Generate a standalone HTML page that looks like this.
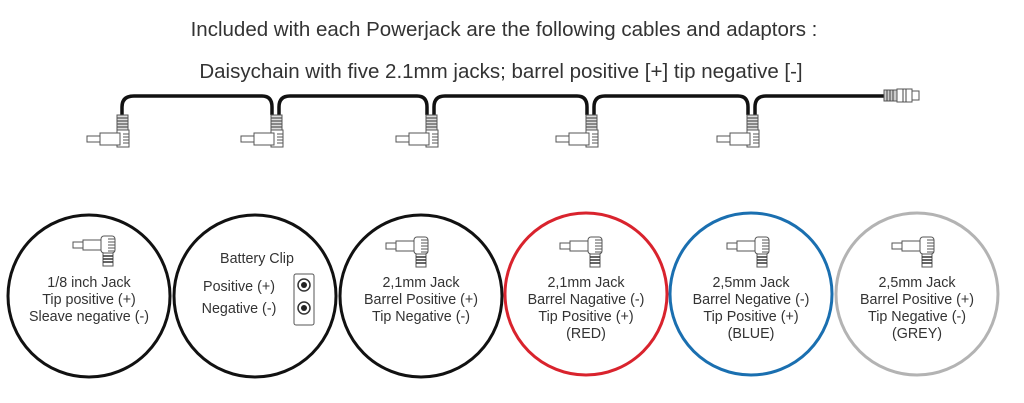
<!DOCTYPE html><html><head><style>body{margin:0;background:#fff}svg{display:block}text{font-family:"Liberation Sans",sans-serif;fill:#333}</style></head><body>
<svg width="1024" height="403" viewBox="0 0 1024 403">
<defs>
<g id="dj">
<rect x="-7" y="0" width="11" height="15" fill="#ddd" stroke="#555" stroke-width="1"/>
<path d="M-7 3H4M-7 6H4M-7 9H4M-7 12H4" stroke="#555" stroke-width="1.2"/>
<rect x="-7" y="15" width="12" height="17" fill="#fff" stroke="#555"/>
<path d="M-1 19H5M-1 22H5M-1 25H5M-1 28H5" stroke="#555"/>
<rect x="-24" y="18" width="20" height="12" fill="#fff" stroke="#555"/>
<rect x="-37" y="21" width="13" height="6" fill="#fff" stroke="#555"/>
</g>
<g id="cj">
<rect x="-7" y="0" width="14" height="17" rx="3" fill="#fff" stroke="#555"/>
<path d="M0 3H7M0 6H7M0 9H7M0 12H7M0 15H7" stroke="#555"/>
<rect x="-5" y="17" width="10" height="13" fill="#fff" stroke="#555"/>
<path d="M-5 20H5M-5 23H5M-5 26H5" stroke="#333" stroke-width="1.5"/>
<rect x="-25" y="4" width="18" height="10" fill="#fff" stroke="#555"/>
<rect x="-35" y="6" width="10" height="6" fill="#fff" stroke="#555"/>
</g>
</defs>
<text x="504" y="36" font-size="20.5" text-anchor="middle">Included with each Powerjack are the following cables and adaptors :</text>
<text x="501" y="78" font-size="20.5" text-anchor="middle">Daisychain with five 2.1mm jacks; barrel positive [+] tip negative [-]</text>
<g fill="none" stroke="#111" stroke-width="3.5">
<path d="M122 115V107Q122 96 134 96H262Q272 96 272 107V115"/>
<path d="M279 115V107Q279 96 290 96H417Q427 96 427 107V115"/>
<path d="M434 115V107Q434 96 445 96H577Q587 96 587 107V115"/>
<path d="M594 115V107Q594 96 605 96H738Q748 96 748 107V115"/>
<path d="M755 115V107Q755 96 766 96H884"/>
</g>
<use href="#dj" x="124" y="115"/><use href="#dj" x="278" y="115"/><use href="#dj" x="433" y="115"/><use href="#dj" x="593" y="115"/><use href="#dj" x="754" y="115"/>
<rect x="884" y="90" width="13" height="11" fill="#ccc" stroke="#555"/>
<path d="M887 90V101M890 90V101M893 90V101" stroke="#444"/>
<rect x="897" y="89" width="15" height="13" fill="#fff" stroke="#555"/>
<path d="M903 89V102M906 89V102" stroke="#444"/>
<rect x="912" y="91" width="7" height="9" fill="#fff" stroke="#555"/>
<g fill="none" stroke-width="3">
<circle cx="89" cy="296" r="81" stroke="#111"/>
<circle cx="255" cy="296" r="81" stroke="#111"/>
<circle cx="421" cy="296" r="81" stroke="#111"/>
<circle cx="586" cy="294" r="81" stroke="#d9232d"/>
<circle cx="751" cy="294" r="81" stroke="#1a6fb0"/>
<circle cx="917" cy="294" r="81" stroke="#b3b3b3"/>
</g>
<use href="#cj" x="108" y="236"/><use href="#cj" x="421" y="237"/><use href="#cj" x="595" y="237"/><use href="#cj" x="762" y="237"/><use href="#cj" x="927" y="237"/>
<rect x="294" y="274" width="20" height="51" rx="2" fill="#fff" stroke="#555"/>
<circle cx="304" cy="285" r="6" fill="#fff" stroke="#333" stroke-width="1.5"/><circle cx="304" cy="285" r="3" fill="#222"/>
<circle cx="304" cy="308" r="6" fill="#fff" stroke="#333" stroke-width="1.5"/><circle cx="304" cy="308" r="3" fill="#222"/>
<g font-size="14.3" text-anchor="middle">
<text x="89" y="287">1/8 inch Jack</text><text x="89" y="304">Tip positive (+)</text><text x="89" y="321">Sleave negative (-)</text>
<text x="257" y="263">Battery Clip</text><text x="239" y="291">Positive (+)</text><text x="239" y="313">Negative (-)</text>
<text x="421" y="287">2,1mm Jack</text><text x="421" y="304">Barrel Positive (+)</text><text x="421" y="321">Tip Negative (-)</text>
<text x="586" y="287">2,1mm Jack</text><text x="586" y="304">Barrel Nagative (-)</text><text x="586" y="321">Tip Positive (+)</text><text x="586" y="338">(RED)</text>
<text x="751" y="287">2,5mm Jack</text><text x="751" y="304">Barrel Negative (-)</text><text x="751" y="321">Tip Positive (+)</text><text x="751" y="338">(BLUE)</text>
<text x="917" y="287">2,5mm Jack</text><text x="917" y="304">Barrel Positive (+)</text><text x="917" y="321">Tip Negative (-)</text><text x="917" y="338">(GREY)</text>
</g>
</svg></body></html>
